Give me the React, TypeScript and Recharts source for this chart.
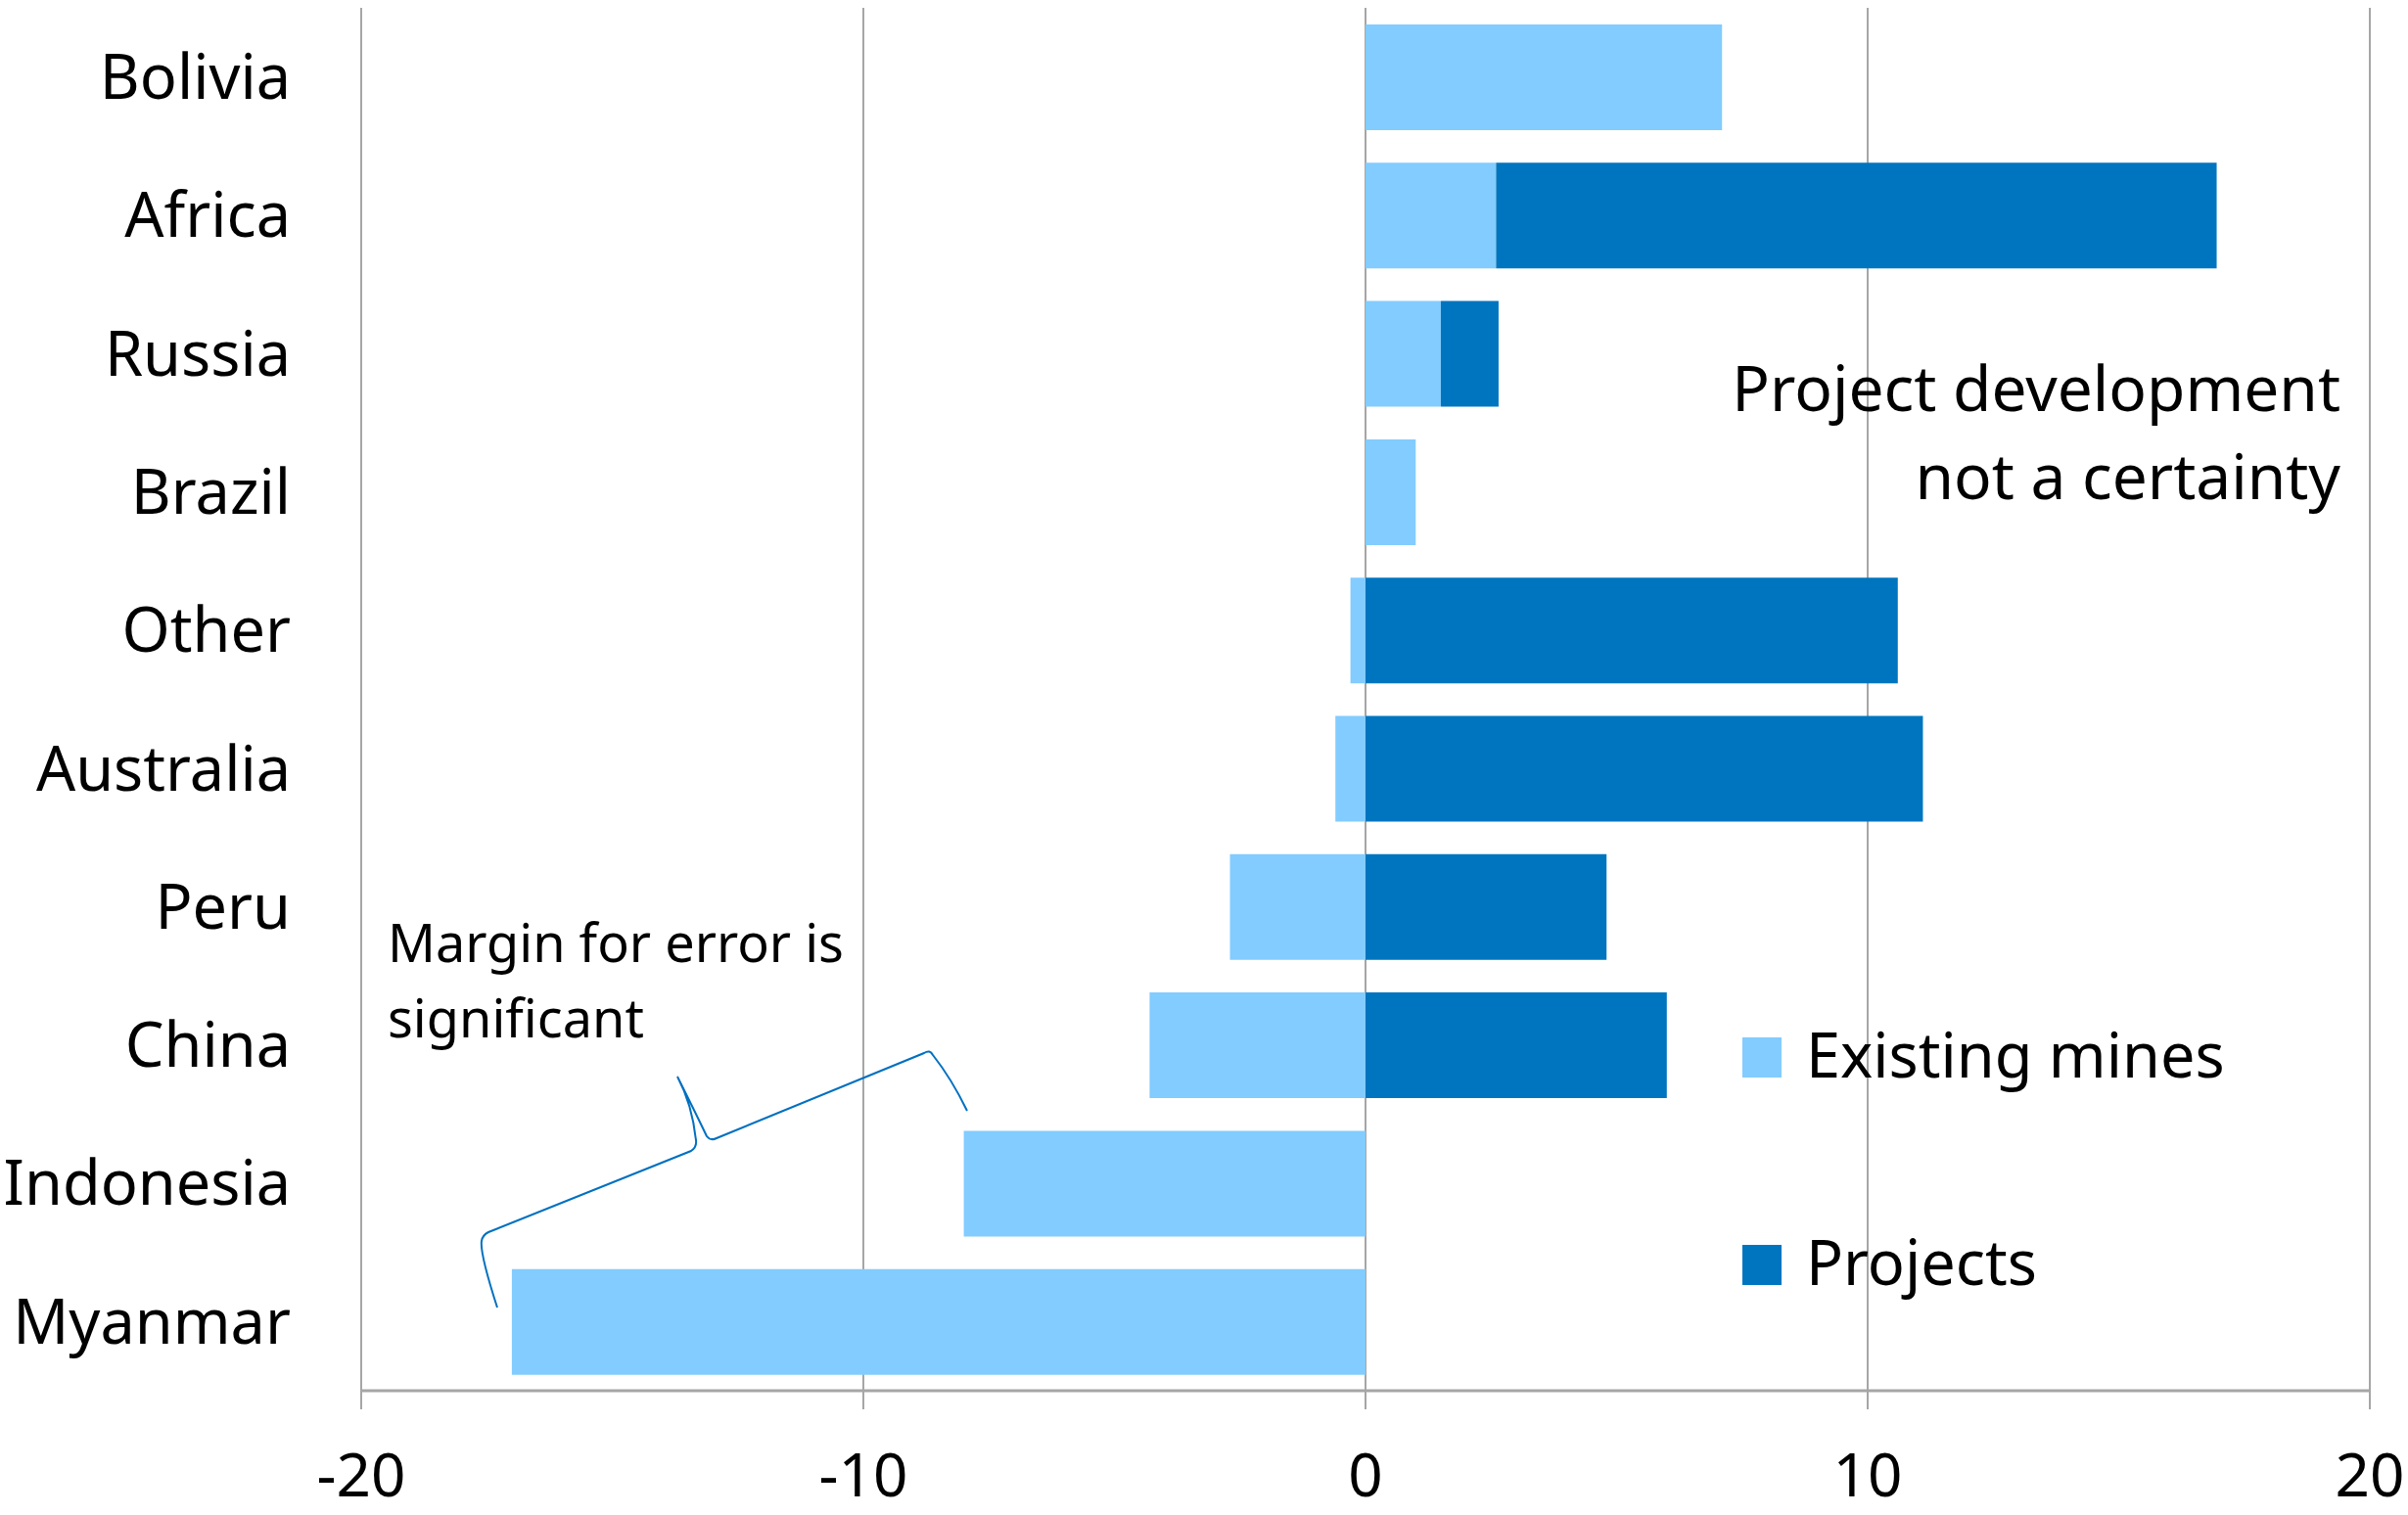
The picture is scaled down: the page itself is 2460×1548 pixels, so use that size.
import { BarChart, Bar, XAxis, YAxis, CartesianGrid, Legend, Customized } from 'recharts';

const countries = ['Bolivia', 'Africa', 'Russia', 'Brazil', 'Other', 'Australia', 'Peru', 'China', 'Indonesia', 'Myanmar'];
const existingMines = [7.1, 2.6, 1.5, 1.0, -0.3, -0.6, -2.7, -4.3, -8.0, -17.0];
const projects = [0, 14.35, 1.15, 0, 10.6, 11.1, 4.8, 6.0, 0, 0];
const xTicks = [-20, -10, 0, 10, 20];

const LIGHT = '#82CCFF';
const DARK = '#0075BF';
const GRID = '#a6a6a6';
const FONT = 'Noto Sans';

const data = countries.map((country, i) => ({
  country,
  existing: existingMines[i],
  projects: projects[i],
}));

// notes and the curly brace drawn on top of the plot
function Annotations() {
  return (
    <g fontFamily={FONT} fill="#000">
      <text x={2391} y={420} fontSize={64} textAnchor="end">Project development</text>
      <text x={2391} y={510} fontSize={64} textAnchor="end">not a certainty</text>
      <text x={396} y={983} fontSize={54}>Margin for error is</text>
      <text x={396} y={1060} fontSize={54}>significant</text>
      <path
        d="M508,1336 Q490,1280 492,1268 Q493,1262 499,1259 L706,1176 Q712,1172 711,1165 Q707,1128 692,1100 Q712,1140 722,1161 Q726,1166 732,1163 L944,1076 Q950,1072 953,1078 Q972,1102 988,1135"
        fill="none"
        stroke="#0070C0"
        strokeWidth={2}
      />
    </g>
  );
}

// legend box starts 40px above the first swatch so the text isn't clipped
function renderLegend(props: any) {
  const items = props.payload || [];
  return (
    <svg width={700} height={330} style={{ display: 'block', overflow: 'visible' }}>
      {items.map((item: any, i: number) => (
        <g key={item.value}>
          <rect x={0} y={40 + i * 212} width={40} height={41} fill={item.color} />
          <text x={65} y={40 + i * 212 + 41} fontSize={63} fontFamily={FONT} fill="#000">
            {item.value}
          </text>
        </g>
      ))}
    </svg>
  );
}

export default function App() {
  return (
    <div style={{ position: 'absolute', left: 0, top: 0, background: '#fff' }}>
      <BarChart
        width={2460}
        height={1548}
        data={data}
        layout="vertical"
        stackOffset="sign"
        margin={{ top: 8, right: 39, bottom: 0, left: 0 }}
      >
        <CartesianGrid horizontal={false} stroke={GRID} strokeWidth={2} />
        <XAxis
          type="number"
          domain={[-20, 20]}
          ticks={xTicks}
          interval={0}
          height={127}
          axisLine={{ stroke: GRID, strokeWidth: 3 }}
          tickLine={{ stroke: GRID, strokeWidth: 2 }}
          tickSize={19}
          tickMargin={45}
          tick={{ fill: '#000', fontSize: 62, fontFamily: FONT }}
        />
        <YAxis
          type="category"
          dataKey="country"
          width={369}
          axisLine={false}
          tickLine={false}
          tickSize={0}
          tickMargin={72}
          interval={0}
          tick={{ fill: '#000', fontSize: 63, fontFamily: FONT }}
        />
        <Bar dataKey="existing" name="Existing mines" stackId="a" fill={LIGHT} barSize={108} isAnimationActive={false} />
        <Bar dataKey="projects" name="Projects" stackId="a" fill={DARK} barSize={108} isAnimationActive={false} />
        <Legend
          layout="vertical"
          align="center"
          verticalAlign="middle"
          content={renderLegend}
          wrapperStyle={{ left: 1780, top: 1020, right: 'auto', bottom: 'auto', width: 700, height: 330 }}
        />
        <Customized component={Annotations} />
      </BarChart>
    </div>
  );
}
